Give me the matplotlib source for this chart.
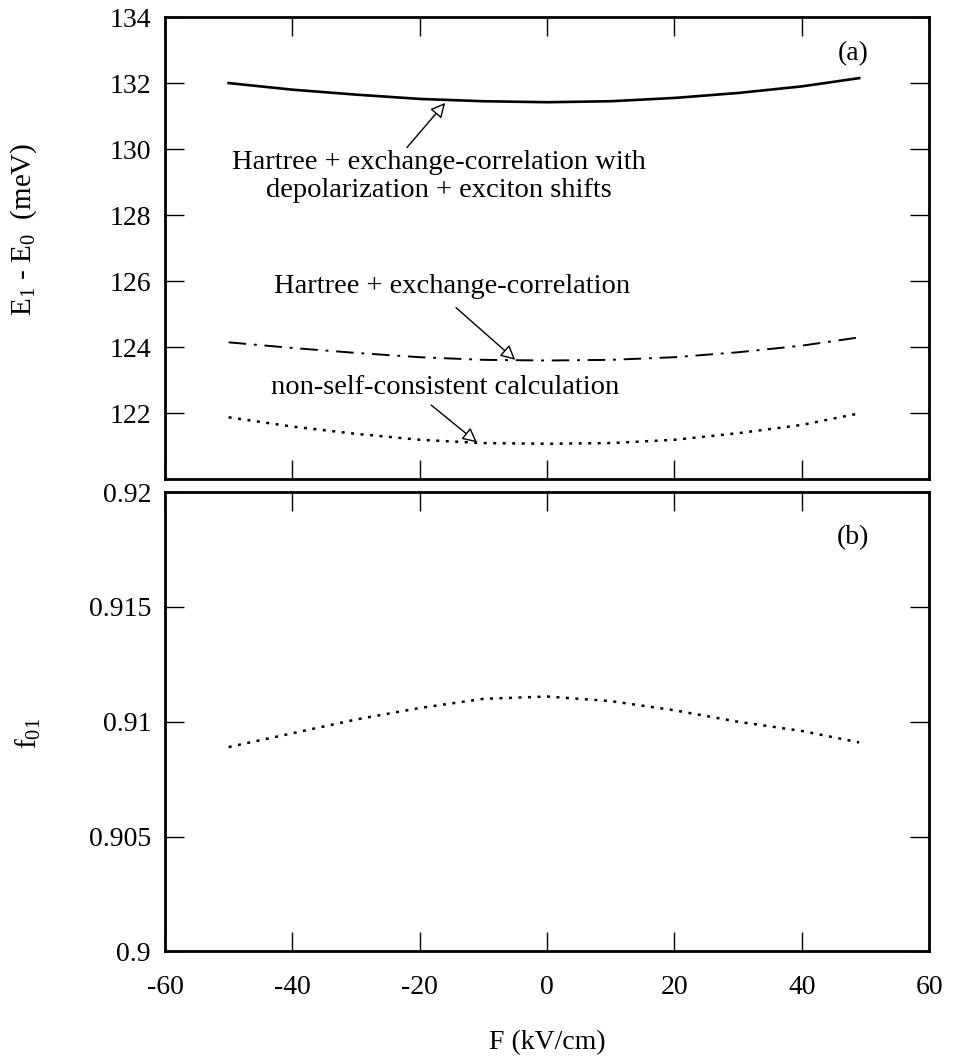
import numpy as np
import matplotlib
matplotlib.use("Agg")
import matplotlib.pyplot as plt

plt.rcParams['font.family'] = ['Liberation Serif', 'DejaVu Serif']
plt.rcParams['mathtext.fontset'] = 'custom'
plt.rcParams['mathtext.rm'] = 'Liberation Serif'
plt.rcParams['mathtext.it'] = 'Liberation Serif:italic'

# ---------------------------------------------------------------
# Data
# ---------------------------------------------------------------
field = [-50, -40, -30, -20, -10, 0, 10, 20, 30, 40, 49]

# (a) transition energy E1 - E0 (meV)
e_full = [132.0, 131.8, 131.65, 131.52, 131.45, 131.42, 131.45, 131.55, 131.7, 131.9, 132.15]
e_hxc = [124.15, 123.98, 123.83, 123.7, 123.62, 123.6, 123.62, 123.7, 123.85, 124.05, 124.3]
e_nsc = [121.88, 121.6, 121.38, 121.2, 121.1, 121.08, 121.1, 121.2, 121.4, 121.65, 122.0]

# (b) oscillator strength f01
f01 = [0.9089, 0.9095, 0.9101, 0.9106, 0.9110, 0.9111, 0.9109, 0.9105, 0.9100, 0.9096, 0.9091]

xticks = [-60, -40, -20, 0, 20, 40, 60]
yticks_a = [122, 124, 126, 128, 130, 132, 134]
yticks_b = [0.9, 0.905, 0.91, 0.915, 0.92]
yticklabels_b = ["0.9", "0.905", "0.91", "0.915", "0.92"]

fig = plt.figure(figsize=(9.59, 10.63), dpi=100)
ax_a = fig.add_axes([0.172, 0.549, 0.797, 0.435])
ax_b = fig.add_axes([0.172, 0.105, 0.797, 0.432])


def style_axes(ax):
    for sp in ax.spines.values():
        sp.set_linewidth(2.0)
    ax.tick_params(direction='in', length=14, width=1.0, labelsize=20,
                   top=True, right=True, pad=10)
    ax.tick_params(axis='x', pad=17)
    ax.set_xlim(-60, 60)
    ax.set_xticks(xticks)


# ---------------- panel (a) ----------------
ax_a.plot(field, e_full, color='black', lw=1.9, ls='-')
ax_a.plot(field, e_hxc, color='black', lw=1.4, ls=(0, (9, 4, 1.5, 4)))
ax_a.plot(field, e_nsc, color='black', lw=1.8, ls=(0, (1.2, 2.6)))
style_axes(ax_a)
ax_a.set_ylim(120, 134)
ax_a.set_yticks(yticks_a)
ax_a.set_yticklabels([str(v) for v in yticks_a])
ax_a.tick_params(axis='x', labelbottom=False)
ax_a.set_ylabel("E$_1$ - E$_0$  (meV)", fontsize=21)
ax_a.yaxis.set_label_coords(-0.165, 0.54)

arrow = dict(arrowstyle='-|>', fc='white', ec='black', lw=1.0,
             mutation_scale=22, shrinkA=0, shrinkB=0)
ax_a.annotate("", xy=(-16, 131.4), xytext=(-22, 130.05), arrowprops=arrow)
ax_a.text(-17, 129.18, "Hartree + exchange-correlation with\ndepolarization + exciton shifts",
          ha='center', va='center', fontsize=20.5, linespacing=1.15)
ax_a.annotate("", xy=(-5, 123.62), xytext=(-14.3, 125.2), arrowprops=arrow)
ax_a.text(-15, 125.85, "Hartree + exchange-correlation",
          ha='center', va='center', fontsize=20.5)
ax_a.annotate("", xy=(-11, 121.12), xytext=(-18.2, 122.25), arrowprops=arrow)
ax_a.text(-16, 122.78, "non-self-consistent calculation",
          ha='center', va='center', fontsize=20.5)
ax_a.text(48, 132.9, "(a)", ha='center', va='center', fontsize=20)

# ---------------- panel (b) ----------------
ax_b.plot(field, f01, color='black', lw=1.8, ls=(0, (1.2, 2.6)))
style_axes(ax_b)
ax_b.set_ylim(0.9, 0.92)
ax_b.set_yticks(yticks_b)
ax_b.set_yticklabels(yticklabels_b)
ax_b.set_xticklabels([str(v) for v in xticks])
ax_b.set_ylabel("f$_{01}$", fontsize=21)
ax_b.yaxis.set_label_coords(-0.160, 0.475)
ax_b.set_xlabel("F (kV/cm)", fontsize=20, labelpad=22)
ax_b.text(48, 0.918, "(b)", ha='center', va='center', fontsize=20)

fig.savefig("out.png", dpi=100)
